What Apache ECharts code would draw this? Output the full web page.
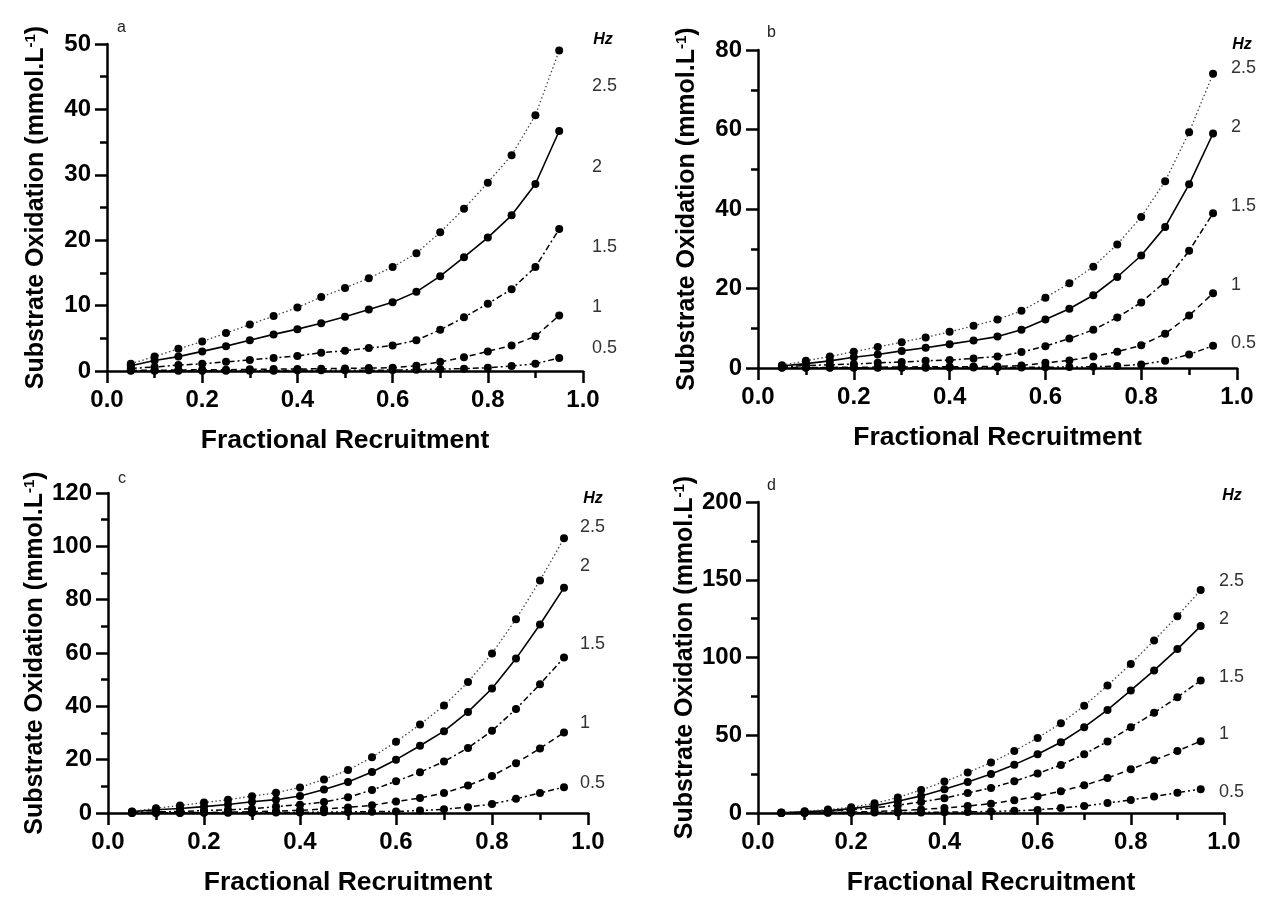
<!DOCTYPE html>
<html>
<head>
<meta charset="utf-8">
<script src="https://cdn.jsdelivr.net/npm/echarts@6/dist/echarts.min.js"></script>
<style>
html,body{margin:0;padding:0;background:#fff;}
#chart{width:1266px;height:904px;}
</style>
</head>
<body>
<div id="chart"></div>
<script>
// Fractional recruitment (x values)
const xValues = [0.05,0.10,0.15,0.20,0.25,0.30,0.35,0.40,0.45,0.50,0.55,0.60,0.65,0.70,0.75,0.80,0.85,0.90,0.95];
const freqLabels = ['2.5','2','1.5','1','0.5'];

// Panel a
const a25 = [1.1,2.2,3.4,4.5,5.8,7.1,8.4,9.7,11.3,12.7,14.2,15.9,18.0,21.2,24.8,28.8,33.0,39.1,49.0];
const a20 = [0.8,1.6,2.2,3.0,3.8,4.7,5.6,6.4,7.3,8.3,9.4,10.5,12.1,14.5,17.4,20.4,23.8,28.6,36.7];
const a15 = [0.4,0.6,0.9,1.1,1.4,1.7,2.0,2.3,2.8,3.1,3.5,3.9,4.7,6.3,8.2,10.3,12.5,15.9,21.7];
const a10 = [0.1,0.1,0.15,0.2,0.2,0.25,0.3,0.3,0.35,0.4,0.45,0.5,0.8,1.4,2.1,3.0,3.9,5.3,8.5];
const a05 = [0.05,0.05,0.05,0.05,0.05,0.05,0.05,0.1,0.1,0.1,0.1,0.15,0.2,0.3,0.35,0.5,0.75,1.1,2.0];

// Panel b
const b25 = [0.7,1.8,2.9,4.1,5.3,6.5,7.7,9.1,10.6,12.2,14.4,17.7,21.3,25.5,31.1,38.0,47.0,59.3,74.0];
const b20 = [0.5,1.1,1.8,2.7,3.4,4.3,5.1,6.0,6.9,7.9,9.6,12.2,14.9,18.3,22.9,28.3,35.5,46.2,59.0];
const b15 = [0.3,0.6,0.8,1.0,1.3,1.5,1.8,2.0,2.4,2.9,4.0,5.5,7.4,9.6,12.7,16.5,21.7,29.5,38.9];
const b10 = [0.1,0.1,0.15,0.2,0.2,0.25,0.3,0.3,0.35,0.4,0.6,1.3,1.9,2.9,4.1,5.7,8.6,13.2,18.8];
const b05 = [0.05,0.05,0.05,0.05,0.05,0.05,0.05,0.1,0.1,0.1,0.15,0.2,0.25,0.3,0.5,0.9,1.8,3.4,5.6];

// Panel c
const c25 = [0.6,1.8,2.8,3.9,5.0,6.3,7.6,9.6,12.6,16.1,20.9,26.7,33.2,40.3,49.1,59.8,72.7,87.2,103.0];
const c20 = [0.5,1.2,1.7,2.4,3.2,4.2,5.0,6.4,8.8,11.6,15.4,20.0,25.2,30.7,37.9,46.7,57.9,70.7,84.5];
const c15 = [0.2,0.4,0.6,0.9,1.2,1.6,2.4,3.1,4.1,5.9,8.6,11.9,15.3,19.3,24.4,30.8,39.0,48.3,58.3];
const c10 = [0.02,0.05,0.1,0.2,0.3,0.5,0.7,1.0,1.5,2.1,2.9,4.3,5.6,7.5,10.3,13.9,18.7,24.2,30.2];
const c05 = [0.01,0.02,0.03,0.05,0.07,0.1,0.15,0.2,0.3,0.4,0.5,0.6,0.9,1.4,2.2,3.4,5.3,7.5,9.7];

// Panel d
const d25 = [0.3,1.2,2.2,3.7,6.2,9.9,14.8,20.2,26.0,32.4,39.9,48.3,57.7,68.9,82.0,95.9,111.0,126.6,143.4];
const d20 = [0.2,0.8,1.5,2.8,4.7,7.5,11.0,15.3,20.0,25.1,31.1,37.8,45.5,55.2,66.3,78.8,91.7,105.4,120.2];
const d15 = [0.1,0.5,1.1,2.0,3.3,5.0,7.1,9.5,12.9,16.1,20.4,25.4,30.9,37.8,46.0,55.2,64.4,74.5,85.2];
const d10 = [0.05,0.15,0.3,0.6,1.0,1.5,2.3,3.2,4.5,6.0,8.2,10.7,14.0,17.8,22.5,28.1,33.9,39.9,46.2];
const d05 = [0.02,0.05,0.1,0.15,0.25,0.3,0.4,0.5,0.7,1.0,1.4,2.0,3.2,4.5,6.4,8.4,10.6,13.1,15.3];

// Axis ticks
const yMaxes = [50, 80, 120, 200];
const yIntervals = [10, 20, 20, 50];
const panelLetters = ['a','b','c','d'];

const FONT = '"Liberation Sans", Arial, Helvetica, sans-serif';

const panels = [
  {grid:{left:107, top:44, width:476, height:327}, series:[a25,a20,a15,a10,a05],
   labelX:592, labelY:[86,167,247,307,348], hz:[603,40], letter:[117,28]},
  {grid:{left:758, top:50, width:479, height:318}, series:[b25,b20,b15,b10,b05],
   labelX:1231, labelY:[68,127,206,285,343], hz:[1242,45], letter:[767,33]},
  {grid:{left:108, top:493, width:480, height:320}, series:[c25,c20,c15,c10,c05],
   labelX:580, labelY:[527,566,644,723,783], hz:[593,499], letter:[118,479]},
  {grid:{left:758, top:502, width:466, height:311}, series:[d25,d20,d15,d10,d05],
   labelX:1219, labelY:[581,619,677,734,792], hz:[1232,496], letter:[767,486]}
];

const lineStyles = [
  {type:[1.5,2.5], color:'#444', width:1.3},   // 2.5 Hz dotted
  {type:'solid', color:'#000', width:1.6},     // 2 Hz
  {type:[6,3,2,3], color:'#000', width:1.5},   // 1.5 Hz
  {type:[6,4], color:'#000', width:1.5},       // 1 Hz
  {type:[6,3,2,3,2,3], color:'#000', width:1.5} // 0.5 Hz
];

const grids = [], xAxes = [], yAxes = [], series = [], graphics = [];

panels.forEach((p, i) => {
  grids.push(Object.assign({containLabel:false}, p.grid));
  xAxes.push({
    type:'value', gridIndex:i, min:0, max:1, interval:0.2,
    name:'Fractional Recruitment', nameLocation:'middle', nameGap:56,
    nameTextStyle:{fontFamily:FONT, fontWeight:'bold', fontSize:26.5, color:'#000'},
    axisLine:{show:true, onZero:false, lineStyle:{color:'#000', width:2.5}},
    axisTick:{show:true, inside:false, length:12, lineStyle:{color:'#000', width:2.5}},
    minorTick:{show:true, splitNumber:2, length:7, lineStyle:{color:'#000', width:2.5}},
    axisLabel:{fontFamily:FONT, fontWeight:'bold', fontSize:24, color:'#000', margin:17,
      formatter: v => v.toFixed(1)},
    splitLine:{show:false}, minorSplitLine:{show:false}
  });
  yAxes.push({
    type:'value', gridIndex:i, min:0, max:yMaxes[i], interval:yIntervals[i],
    name:'Substrate Oxidation (mmol.L{sup|-1})', nameLocation:'middle', nameGap:57,
    nameRotate:90,
    nameTextStyle:{fontFamily:FONT, fontWeight:'bold', fontSize:25, color:'#000',
      rich:{sup:{fontFamily:FONT, fontWeight:'bold', fontSize:15, color:'#000', verticalAlign:'top', padding:[0,0,12,0]}}},
    axisLine:{show:true, lineStyle:{color:'#000', width:2.5}},
    axisTick:{show:true, inside:false, length:12, lineStyle:{color:'#000', width:2.5}},
    minorTick:{show:true, splitNumber:2, length:7, lineStyle:{color:'#000', width:2.5}},
    axisLabel:{fontFamily:FONT, fontWeight:'bold', fontSize:24, color:'#000', margin:16},
    splitLine:{show:false}, minorSplitLine:{show:false}
  });
  p.series.forEach((vals, k) => {
    series.push({
      type:'line', xAxisIndex:i, yAxisIndex:i, name:freqLabels[k],
      data: xValues.map((x, j) => [x, vals[j]]),
      symbol:'circle', symbolSize:8, showSymbol:true,
      itemStyle:{color:'#000'}, lineStyle:lineStyles[k],
      clip:false, animation:false, z: 5 - k
    });
    graphics.push({
      type:'text', x:p.labelX, y:p.labelY[k],
      style:{text:freqLabels[k], fontFamily:FONT, fontSize:18, fill:'#333',
        textAlign:'left', textVerticalAlign:'middle'}
    });
  });
  graphics.push({
    type:'text', x:p.hz[0], y:p.hz[1],
    style:{text:'Hz', fontFamily:FONT, fontSize:16, fontWeight:'bold', fontStyle:'italic', fill:'#000',
      textAlign:'center', textVerticalAlign:'middle'}
  });
  graphics.push({
    type:'text', x:p.letter[0], y:p.letter[1],
    style:{text:panelLetters[i], fontFamily:FONT, fontSize:16, fill:'#222',
      textAlign:'left', textVerticalAlign:'middle'}
  });
});

const chart = echarts.init(document.getElementById('chart'), null, {renderer:'canvas'});
chart.setOption({
  backgroundColor:'#fff',
  animation:false,
  grid:grids, xAxis:xAxes, yAxis:yAxes, series:series, graphic:graphics
});
</script>
</body>
</html>
